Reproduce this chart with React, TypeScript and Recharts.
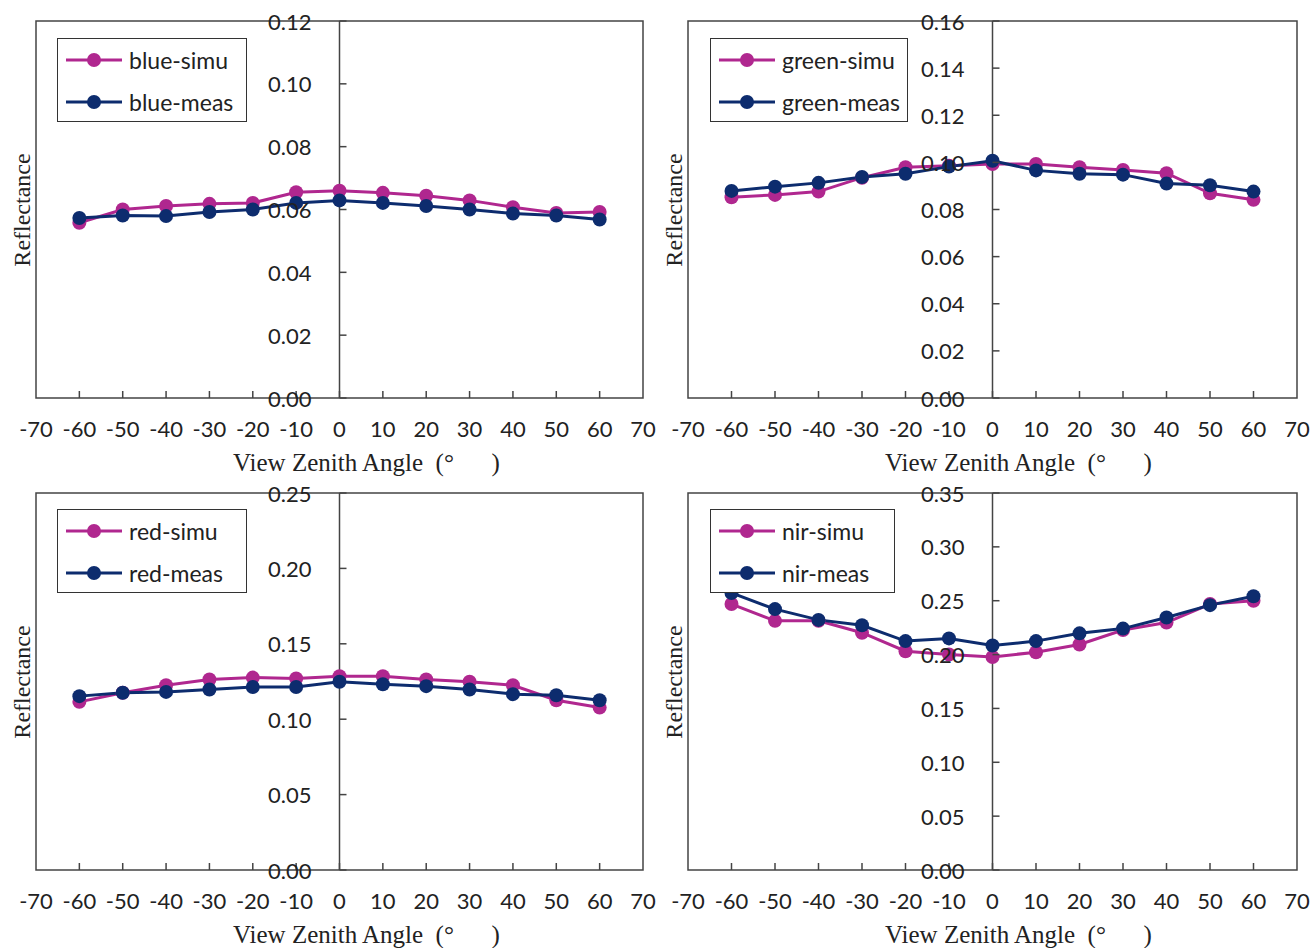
import { LineChart, Line, XAxis, YAxis, Legend, ReferenceLine, ReferenceArea } from 'recharts'

const angles = [-60, -50, -40, -30, -20, -10, 0, 10, 20, 30, 40, 50, 60]
const xTicks = [-70, -60, -50, -40, -30, -20, -10, 0, 10, 20, 30, 40, 50, 60, 70]

const blueSimu = [0.0558, 0.06, 0.0611, 0.0618, 0.0621, 0.0655, 0.066, 0.0653, 0.0644, 0.0629, 0.0607, 0.0589, 0.0592]
const blueMeas = [0.0573, 0.0581, 0.0579, 0.0592, 0.06, 0.0621, 0.0629, 0.0621, 0.0611, 0.06, 0.0587, 0.0581, 0.0568]
const greenSimu = [0.0852, 0.0862, 0.0876, 0.0935, 0.0979, 0.0986, 0.0993, 0.0993, 0.0979, 0.0968, 0.0954, 0.0869, 0.0841]
const greenMeas = [0.0879, 0.0897, 0.0913, 0.0938, 0.0952, 0.0982, 0.1007, 0.0966, 0.0952, 0.0948, 0.091, 0.0903, 0.0876]
const redSimu = [0.1115, 0.1175, 0.1225, 0.1263, 0.1276, 0.127, 0.1285, 0.1285, 0.1263, 0.1248, 0.1225, 0.1126, 0.1077]
const redMeas = [0.1153, 0.1175, 0.1181, 0.1197, 0.1214, 0.1214, 0.1248, 0.1232, 0.1219, 0.1197, 0.1166, 0.1159, 0.1126]
const nirSimu = [0.2469, 0.2313, 0.2313, 0.2203, 0.2031, 0.2, 0.1978, 0.2022, 0.2094, 0.2228, 0.2297, 0.2469, 0.25]
const nirMeas = [0.2572, 0.2422, 0.2322, 0.2272, 0.2125, 0.215, 0.2084, 0.2125, 0.2197, 0.2241, 0.2344, 0.2459, 0.2541]

const blueTicks = [0, 0.02, 0.04, 0.06, 0.08, 0.1, 0.12]
const greenTicks = [0, 0.02, 0.04, 0.06, 0.08, 0.1, 0.12, 0.14, 0.16]
const redTicks = [0, 0.05, 0.1, 0.15, 0.2, 0.25]
const nirTicks = [0, 0.05, 0.1, 0.15, 0.2, 0.25, 0.3, 0.35]

const SIMU = '#B0278F'
const MEAS = '#0D2C6E'
const AXIS = '#444'
const TICK_FONT = 'Lato, "Noto Sans", sans-serif'
const TITLE_FONT = '"Liberation Serif", "DejaVu Serif", serif'

interface PanelProps {
  left: number
  top: number
  plotW: number
  simu: number[]
  meas: number[]
  names: [string, string]
  yTicks: number[]
  legendW: number
  legendLeft: number
  legendTop: number
}

interface LegendEntry {
  value: string
  color: string
}

function LegendBox({ payload, width, order }: { payload?: LegendEntry[]; width: number; order: string[] }) {
  // keep simu above meas, like the original
  const items = [...(payload ?? [])].sort((a, b) => order.indexOf(a.value) - order.indexOf(b.value))
  return (
    <div
      style={{
        width,
        height: 84,
        boxSizing: 'border-box',
        border: '1.5px solid #333',
        background: '#fff',
      }}
    >
      {items.map((entry) => (
        <div key={entry.value} style={{ display: 'flex', alignItems: 'center', height: 42 }}>
          <svg width={56} height={20} style={{ marginLeft: 8, flexShrink: 0 }}>
            <line x1={0} x2={56} y1={10} y2={10} stroke={entry.color} strokeWidth={3} />
            <circle cx={28} cy={10} r={7} fill={entry.color} />
          </svg>
          <span style={{ fontFamily: TICK_FONT, fontSize: 23, color: '#222', marginLeft: 7, whiteSpace: 'nowrap' }}>
            {entry.value}
          </span>
        </div>
      ))}
    </div>
  )
}

function Panel({ left, top, plotW, simu, meas, names, yTicks, legendW, legendLeft, legendTop }: PanelProps) {
  const data = angles.map((a, i) => ({ angle: a, simu: simu[i], meas: meas[i] }))
  const yMax = yTicks[yTicks.length - 1]
  const half = plotW / 2

  const YTick = ({ x, y, payload }: { x: number; y: number; payload: { value: number } }) => (
    <g>
      <line x1={x + half} x2={x + half + 7} y1={y} y2={y} stroke={AXIS} strokeWidth={1.5} />
      <text
        x={x + half - 28}
        y={y}
        textAnchor="end"
        dominantBaseline="central"
        fontFamily={TICK_FONT}
        fontSize={22}
        fill="#222"
      >
        {payload.value.toFixed(2)}
      </text>
    </g>
  )

  const XTick = ({ x, y, payload }: { x: number; y: number; payload: { value: number } }) => (
    <g>
      {payload.value !== -70 && payload.value !== 70 && (
        <line x1={x} x2={x} y1={y} y2={y - 7} stroke={AXIS} strokeWidth={1.5} />
      )}
      <text x={x} y={y + 30} textAnchor="middle" dominantBaseline="central" fontFamily={TICK_FONT} fontSize={22} fill="#222">
        {payload.value}
      </text>
    </g>
  )

  return (
    <div style={{ position: 'absolute', left, top, width: plotW + 60, height: 478 }}>
      <LineChart width={plotW + 60} height={478} data={data} margin={{ top: 21, left: 35, right: 24, bottom: 50 }}>
        <XAxis
          dataKey="angle"
          type="number"
          domain={[-70, 70]}
          ticks={xTicks}
          interval={0}
          height={30}
          axisLine={false}
          tickLine={false}
          tickSize={0}
          tickMargin={0}
          tick={XTick}
        />
        <YAxis
          type="number"
          domain={[0, yMax]}
          ticks={yTicks}
          interval={0}
          width={1}
          axisLine={false}
          tickLine={false}
          tickSize={0}
          tickMargin={0}
          tick={YTick}
        />
        <ReferenceArea x1={-70} x2={70} y1={0} y2={yMax} fill="none" stroke={AXIS} strokeWidth={1.5} />
        <ReferenceLine x={0} stroke={AXIS} strokeWidth={1.5} />
        <Legend
          layout="vertical"
          align="center"
          verticalAlign="middle"
          wrapperStyle={{ left: legendLeft, top: legendTop, width: legendW }}
          content={(props: any) => <LegendBox payload={props.payload} width={legendW} order={names} />}
        />
        <Line
          type="linear"
          dataKey="simu"
          name={names[0]}
          stroke={SIMU}
          strokeWidth={3}
          dot={{ r: 7, fill: SIMU, stroke: SIMU, strokeWidth: 0 }}
          activeDot={false}
          isAnimationActive={false}
        />
        <Line
          type="linear"
          dataKey="meas"
          name={names[1]}
          stroke={MEAS}
          strokeWidth={3}
          dot={{ r: 7, fill: MEAS, stroke: MEAS, strokeWidth: 0 }}
          activeDot={false}
          isAnimationActive={false}
        />
      </LineChart>
      <div
        style={{
          position: 'absolute',
          left: 233,
          top: 443,
          fontFamily: TITLE_FONT,
          fontSize: 25,
          color: '#222',
          whiteSpace: 'pre',
          lineHeight: '40px',
        }}
      >
        {'View Zenith Angle  (°\u3000  )'}
      </div>
      <div
        style={{
          position: 'absolute',
          left: 22 - 100,
          top: 210 - 20,
          width: 200,
          height: 40,
          lineHeight: '40px',
          textAlign: 'center',
          transform: 'rotate(-90deg)',
          fontFamily: TITLE_FONT,
          fontSize: 24,
          color: '#222',
        }}
      >
        Reflectance
      </div>
    </div>
  )
}

export default function App() {
  return (
    <div style={{ position: 'absolute', left: 0, top: 0, width: 1312, height: 948, background: '#fff', overflow: 'hidden' }}>
      <Panel left={0} top={0} plotW={607} simu={blueSimu} meas={blueMeas} names={['blue-simu', 'blue-meas']} yTicks={blueTicks} legendW={190} legendLeft={57} legendTop={38} />
      <Panel left={652} top={0} plotW={609} simu={greenSimu} meas={greenMeas} names={['green-simu', 'green-meas']} yTicks={greenTicks} legendW={198} legendLeft={58} legendTop={38} />
      <Panel left={0} top={472} plotW={607} simu={redSimu} meas={redMeas} names={['red-simu', 'red-meas']} yTicks={redTicks} legendW={190} legendLeft={57} legendTop={37} />
      <Panel left={652} top={472} plotW={609} simu={nirSimu} meas={nirMeas} names={['nir-simu', 'nir-meas']} yTicks={nirTicks} legendW={185} legendLeft={58} legendTop={37} />
    </div>
  )
}
